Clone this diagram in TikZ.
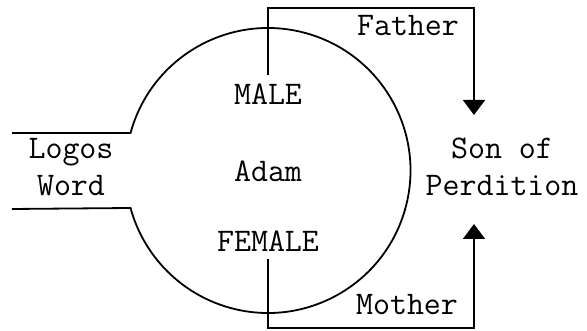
\documentclass[tikz,border=0pt]{standalone}
\usetikzlibrary{arrows.meta}
\begin{document}
\begin{tikzpicture}[x=1pt,y=1pt,line width=1.8pt,
  lbl/.style={font=\ttfamily\fontsize{33}{37}\selectfont,inner sep=0pt,align=center},
  arr/.style={-{Triangle[width=22pt,length=15pt]}}]
\useasboundingbox (0,0) rectangle (587,331);
\coordinate (c) at (268,160.5);
\coordinate (ua) at ([shift={(164.74:142.5)}]c);
\coordinate (la) at ([shift={(-164.74:142.5)}]c);
\coordinate (ul) at (12,198);
\coordinate (ll) at (12,122);
\coordinate (ftip) at (474,216);
\coordinate (mtip) at (474,107);
\node[lbl,anchor=base] (male) at (268,226) {MALE};
\node[lbl,anchor=base] (adam) at (268,149) {Adam};
\node[lbl,anchor=base] (female) at (268,79) {FEMALE};
\node[lbl,anchor=base] (father) at (408,295) {Father};
\node[lbl,anchor=base] (mother) at (407,16) {Mother};
\node[lbl] (logos) at (71,164) {Logos\\Word};
\node[lbl] (son) at (502,164) {Son of\\Perdition};
\draw (ul) -- (ua) arc[start angle=164.74,end angle=-164.74,radius=142.5] -- (ll);
\draw[arr] ([yshift=8pt]male.north) |- ([yshift=107pt]ftip) -- (ftip);
\draw[arr] ([yshift=-6pt]female.south) |- ([yshift=-104pt]mtip) -- (mtip);
\end{tikzpicture}
\end{document}
